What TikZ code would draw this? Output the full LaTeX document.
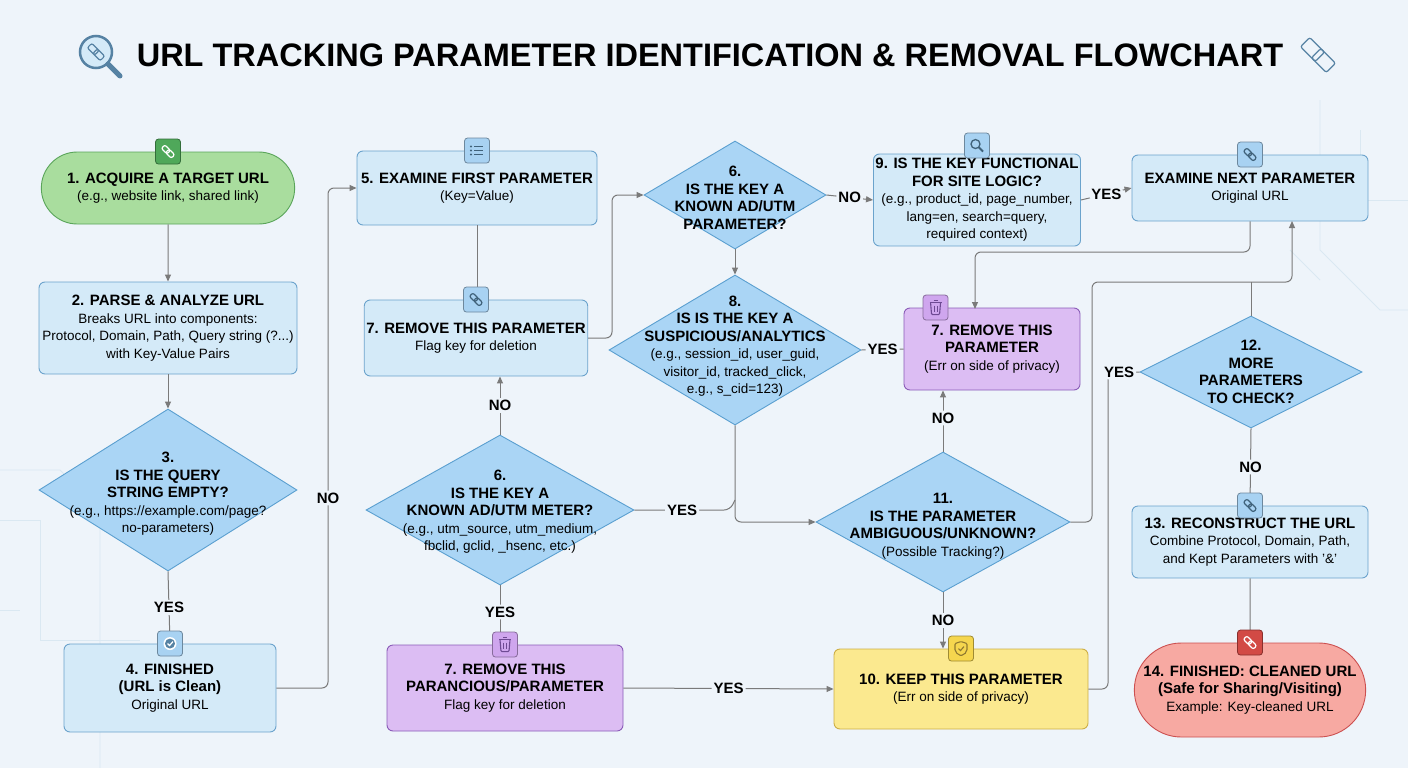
\documentclass[tikz,border=0pt]{standalone}
\usepackage{fontspec}
\setmainfont{Liberation Sans}
\usetikzlibrary{shapes.geometric, shapes.misc, arrows.meta}

\definecolor{bgblue}{HTML}{EEF4FA}
\definecolor{boxfill}{HTML}{D4EAF8}
\definecolor{boxline}{HTML}{6BA3CC}
\definecolor{diafill}{HTML}{AAD5F5}
\definecolor{dialine}{HTML}{5A9FD0}
\definecolor{purfill}{HTML}{DCBDF3}
\definecolor{purline}{HTML}{8A5CB8}
\definecolor{yelfill}{HTML}{FBE98F}
\definecolor{yelline}{HTML}{CDAE45}
\definecolor{redfill}{HTML}{F7A9A2}
\definecolor{redline}{HTML}{CC5050}
\definecolor{grnfill}{HTML}{A9DD9E}
\definecolor{grnline}{HTML}{5AA55A}
\definecolor{wire}{HTML}{7A7A7A}
\definecolor{iblue}{HTML}{A8D2F2}
\definecolor{igreen}{HTML}{4FA85A}
\definecolor{ipurple}{HTML}{CFA6EE}
\definecolor{iyellow}{HTML}{F5D64E}
\definecolor{ired}{HTML}{D24A45}

\newcommand{\hd}[1]{{\fontsize{15}{17}\selectfont\bfseries #1}}
\newcommand{\sub}[1]{{\fontsize{13.5}{17}\selectfont #1}}

\tikzset{
  every node/.style={font=\fontsize{13.5}{17.5}\selectfont},
  box/.style={rectangle, rounded corners=6pt, draw=boxline, fill=boxfill,
    line width=0.9pt, align=center, inner sep=2pt},
  dia/.style={diamond, draw=dialine, fill=diafill, line width=0.9pt,
    align=center, inner sep=0pt},
  term/.style={rounded rectangle, draw=grnline, fill=grnfill,
    line width=0.9pt, align=center},
  purple/.style={box, draw=purline, fill=purfill},
  yellow/.style={box, draw=yelline, fill=yelfill},
  icon/.style={rectangle, rounded corners=3pt, draw=#1!65!black, fill=#1,
    minimum size=25pt, inner sep=0pt, line width=0.8pt},
  flow/.style={draw=wire, line width=1pt, rounded corners=6pt,
    -{Triangle[length=7pt, width=6pt]}},
  line/.style={draw=wire, line width=1pt, rounded corners=6pt},
  lab/.style={fill=bgblue, inner sep=2pt, font=\fontsize{15}{17}\selectfont\bfseries},
  pics/link/.style={code={
    \draw[line width=1.2pt, rotate=-45, rounded corners=2pt] (-7,-2.5) rectangle (1,2.5);
    \draw[line width=1.2pt, rotate=-45, rounded corners=2pt] (-1,-2.5) rectangle (7,2.5);}},
  pics/trash/.style={code={
    \draw[line width=1.1pt] (-6,-5) -- (6,-5) (-2,-7) -- (2,-7);
    \draw[line width=1.1pt, rounded corners=1pt] (-5,-5) -- (-4,7) -- (4,7) -- (5,-5);
    \draw[line width=0.9pt] (-1.5,-2) -- (-1.5,4) (1.5,-2) -- (1.5,4);}},
  pics/list/.style={code={
    \foreach \yy in {-4,0,4} {
      \fill (-6,\yy) circle (1.1pt);
      \draw[line width=1.1pt] (-3,\yy) -- (6,\yy);}}},
  pics/check/.style={code={
    \fill[white] (0,0) circle (6.5pt);
    \fill[boxline!80!black] (0,0) circle (5pt);
    \draw[white, line width=1.2pt] (-2.5,0) -- (-0.5,2) -- (3,-2);}},
  pics/search/.style={code={
    \draw[line width=1.3pt] (-1.5,-1.5) circle (4.5pt);
    \draw[line width=2pt] (1.8,1.8) -- (6,6);}},
  pics/shield/.style={code={
    \draw[line width=1.1pt, rounded corners=1pt] (0,-7) -- (6,-5) -- (6,0) .. controls (6,4) and (3,6) .. (0,7)
      .. controls (-3,6) and (-6,4) .. (-6,0) -- (-6,-5) -- cycle;
    \draw[line width=1.1pt] (-2.5,0) -- (-0.5,2) -- (3,-2);}}
}

\begin{document}
\begin{tikzpicture}[x=1pt, y=-1pt]
  \fill[bgblue] (0,0) rectangle (1408,768);
  \useasboundingbox (0,0) rectangle (1408,768);

  % faint circuit traces
  \begin{scope}[draw=boxline!25, line width=0.8pt]
    \draw (0,470) -- (60,470) -- (100,510) -- (100,768);
    \draw (0,520) -- (40,520) -- (40,640) -- (140,640);
    \draw (0,610) -- (20,610);
    \draw (1320,100) -- (1320,250) -- (1380,310) -- (1408,310);
    \draw (1360,130) -- (1360,200) -- (1408,200);
    \draw (1290,250) -- (1320,280);
  \end{scope}

  % title
  \node (title) at (710,55) {\fontsize{32.5}{36}\selectfont\bfseries URL TRACKING PARAMETER IDENTIFICATION \& REMOVAL FLOWCHART};
  \draw[boxline!80!black, fill=boxfill, line width=2.5pt] (96,52) circle (16pt);
  \draw[boxline!80!black, line width=5pt, line cap=round] (108,64) -- (120,76);
  \pic[boxline!80!black, scale=1.3] at (96,52) {link};
  \pic[boxline!80!black, scale=2.6] at (1318,55) {link};

  % left column
  \node[term, minimum width=260pt, minimum height=72pt] (acquire) at (168,188)
    {\hd{1. ACQUIRE A TARGET URL}\\ \sub{(e.g., website link, shared link)}};
  \node[box, minimum width=258pt, minimum height=92pt] (parse) at (168,328)
    {\hd{2. PARSE \& ANALYZE URL}\\ \sub{Breaks URL into components:}\\
     \sub{Protocol, Domain, Path, Query string (?...)}\\ \sub{with Key-Value Pairs}};
  \node[dia, minimum width=258pt, minimum height=162pt] (empty) at (168,490) {};
  \node[align=center] (emptytxt) at (168,494)
    {\hd{3.}\\ \hd{IS THE QUERY}\\ \hd{STRING EMPTY?}\\
     \sub{(e.g., https://example.com/page?}\\ \sub{no-parameters)}};
  \node[box, minimum width=212pt, minimum height=88pt] (clean) at (170,688)
    {\hd{4. FINISHED}\\ \hd{(URL is Clean)}\\ \sub{Original URL}};

  % second column
  \node[box, minimum width=240pt, minimum height=74pt] (first) at (477,188)
    {\hd{5. EXAMINE FIRST PARAMETER}\\ \sub{(Key=Value)}};
  \node[box, minimum width=222pt, minimum height=76pt] (flag) at (476,338)
    {\hd{7. REMOVE THIS PARAMETER}\\ \sub{Flag key for deletion}};
  \node[dia, minimum width=268pt, minimum height=150pt] (known) at (500,510) {};
  \node[align=center] (knowntxt) at (500,512)
    {\hd{6.}\\ \hd{IS THE KEY A}\\ \hd{KNOWN AD/UTM METER?}\\
     \sub{(e.g., utm\_source, utm\_medium,}\\ \sub{fbclid, gclid, \_hsenc, etc.)}};
  \node[purple, minimum width=236pt, minimum height=86pt] (purge) at (505,688)
    {\hd{7. REMOVE THIS}\\ \hd{PARANCIOUS/PARAMETER}\\ \sub{Flag key for deletion}};

  % third column
  \node[dia, minimum width=182pt, minimum height=108pt] (adutm) at (735,195) {};
  \node[align=center] (adutmtxt) at (735,198)
    {\hd{6.}\\ \hd{IS THE KEY A}\\ \hd{KNOWN AD/UTM}\\ \hd{PARAMETER?}};
  \node[dia, minimum width=252pt, minimum height=150pt] (suspect) at (735,350) {};
  \node[align=center] (suspecttxt) at (735,346)
    {\hd{8.}\\ \hd{IS IS THE KEY A}\\ \hd{SUSPICIOUS/ANALYTICS}\\
     \sub{(e.g., session\_id, user\_guid,}\\ \sub{visitor\_id, tracked\_click,}\\ \sub{e.g., s\_cid=123)}};

  % fourth column
  \node[box, minimum width=204pt, minimum height=92pt] (logic) at (977,200)
    {\hd{9. IS THE KEY FUNCTIONAL}\\ \hd{FOR SITE LOGIC?}\\
     \sub{(e.g., product\_id, page\_number,}\\ \sub{lang=en, search=query,}\\ \sub{required context)}};
  \node[purple, minimum width=176pt, minimum height=82pt] (privacy) at (992,349)
    {\hd{7. REMOVE THIS}\\ \hd{PARAMETER}\\ \sub{(Err on side of privacy)}};
  \node[dia, minimum width=254pt, minimum height=140pt] (ambig) at (943,522) {};
  \node[align=center] (ambigtxt) at (943,526)
    {\hd{11.}\\ \hd{IS THE PARAMETER}\\ \hd{AMBIGUOUS/UNKNOWN?}\\ \sub{(Possible Tracking?)}};
  \node[yellow, minimum width=254pt, minimum height=80pt] (keep) at (961,689)
    {\hd{10. KEEP THIS PARAMETER}\\ \sub{(Err on side of privacy)}};

  % right column
  \node[box, minimum width=236pt, minimum height=66pt] (next) at (1250,188)
    {\hd{EXAMINE NEXT PARAMETER}\\ \sub{Original URL}};
  \node[dia, minimum width=222pt, minimum height=112pt] (more) at (1251,372) {};
  \node[align=center] (moretxt) at (1251,372)
    {\hd{12.}\\ \hd{MORE}\\ \hd{PARAMETERS}\\ \hd{TO CHECK?}};
  \node[box, minimum width=236pt, minimum height=72pt] (rebuild) at (1250,542)
    {\hd{13. RECONSTRUCT THE URL}\\ \sub{Combine Protocol, Domain, Path,}\\ \sub{and Kept Parameters with '\&'}};
  \node[term, draw=redline, fill=redfill, minimum width=238pt, minimum height=94pt] (done) at (1250,690)
    {\hd{14. FINISHED: CLEANED URL}\\ \hd{(Safe for Sharing/Visiting)}\\ \sub{Example: Key-cleaned URL}};

  % connectors
  \draw[flow] (acquire) -- (parse);
  \draw[flow] (parse) -- (empty);
  \draw[flow] (empty.south) -- node[lab] {YES} (clean.north);
  \draw[flow] (clean.east) -- (328,688) -- node[lab, pos=0.38] {NO} (328,188) -- (first.west);
  \draw[flow] (first) -- (first |- flag.north);
  \draw[flow] (known.north) -- node[lab] {NO} (known.north |- flag.south);
  \draw[flow] (known.south) -- node[lab, pos=0.45] {YES} (known.south |- purge.north);
  \draw[flow] (flag.east) -- (612,338) -- (612,195) -- (adutm.west);
  \draw[flow] (adutm.east) -- node[lab] {NO} (logic.west);
  \draw[flow] (adutm.south) -- (suspect.north);
  \draw[line] (suspect.east) -- node[lab] {YES} (privacy.west);
  \draw[flow] (suspect.south) -- (735,522) -- (ambig.west);
  \draw[line] (known.east) -- node[lab] {YES} (730,510) -- (735,500);
  \draw[flow] (ambig.north) -- node[lab, pos=0.55] {NO} (ambig.north |- privacy.south);
  \draw[flow] (ambig.south) -- node[lab] {NO} (ambig.south |- keep.north);
  \draw[flow] (purge.east) -- node[lab] {YES} (keep.west);
  \draw[flow] (logic.east) -- node[lab] {YES} (next.west);
  \draw[flow] (next.south) -- (1250,252) -- (975,252) -- (975,309);
  \draw[flow] (ambig.east) -- (1092,522) -- (1092,282) -- (1292,282) -- (1292,221);
  \draw[line] (more.north) -- (1251,282);
  \draw[line] (keep.east) -- (1108,689) -- (1108,372) -- node[lab, pos=0.35] {YES} (more.west);
  \draw[flow] (more.south) -- node[lab] {NO} (rebuild.north);
  \draw[flow] (rebuild) -- (done);

  % icons
  \node[icon=igreen] (iacquire) at (acquire.north) {};
  \pic[white] at (iacquire) {link};
  \node[icon=iblue] (ifirst) at (first.north) {};
  \pic[boxline!60!black] at (ifirst) {list};
  \node[icon=iblue] (iflag) at (flag.north) {};
  \pic[boxline!60!black] at (iflag) {link};
  \node[icon=iblue] (iclean) at (clean.north) {};
  \pic at (iclean) {check};
  \node[icon=ipurple] (ipurge) at (purge.north) {};
  \pic[purline!80!black] at (ipurge) {trash};
  \node[icon=iblue, yshift=8pt] (ilogic) at (logic.north) {};
  \pic[boxline!60!black] at (ilogic) {search};
  \node[icon=ipurple, xshift=32pt] (iprivacy) at (privacy.north west) {};
  \pic[purline!80!black] at (iprivacy) {trash};
  \node[icon=iyellow] (ikeep) at (keep.north) {};
  \pic[yelline!70!black] at (ikeep) {shield};
  \node[icon=iblue] (inext) at (next.north) {};
  \pic[boxline!60!black] at (inext) {link};
  \node[icon=iblue] (irebuild) at (rebuild.north) {};
  \pic[boxline!60!black] at (irebuild) {link};
  \node[icon=ired] (idone) at (done.north) {};
  \pic[white] at (idone) {link};
\end{tikzpicture}
\end{document}
